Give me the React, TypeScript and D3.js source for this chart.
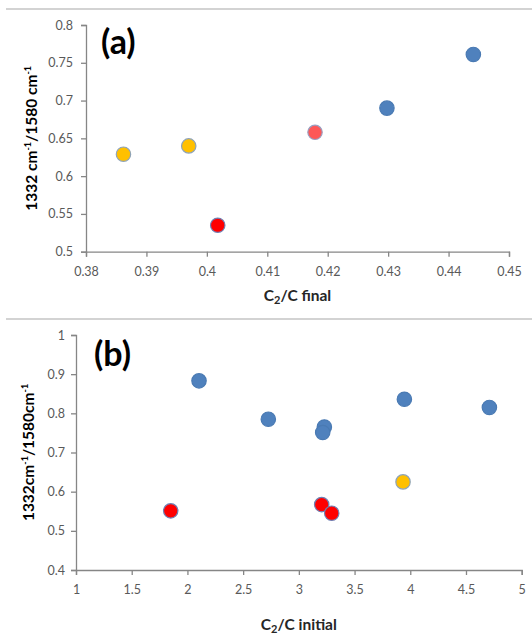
import React, { useRef, useEffect } from "react";
import { scaleLinear, select, axisLeft, axisBottom } from "d3";

// panel (a): C2/C final vs intensity ratio
const finalX = [0.3862, 0.397, 0.4018, 0.4179, 0.4298, 0.4441];
const finalY = [0.629, 0.64, 0.535, 0.658, 0.69, 0.761];
const finalGroup = ["yellow", "yellow", "red", "pink", "blue", "blue"];
const finalXTicks = [0.38, 0.39, 0.4, 0.41, 0.42, 0.43, 0.44, 0.45];
const finalYTicks = [0.5, 0.55, 0.6, 0.65, 0.7, 0.75, 0.8];

// panel (b): C2/C initial vs intensity ratio
const initX = [2.104, 2.726, 3.229, 3.214, 3.947, 4.71, 3.935, 1.85, 3.205, 3.295];
const initY = [0.883, 0.785, 0.765, 0.751, 0.836, 0.815, 0.625, 0.551, 0.567, 0.545];
const initGroup = ["blue", "blue", "blue", "blue", "blue", "blue", "yellow", "red", "red", "red"];
const initXTicks = [1, 1.5, 2, 2.5, 3, 3.5, 4, 4.5, 5];
const initYTicks = [0.4, 0.5, 0.6, 0.7, 0.8, 0.9, 1];

const fills = { blue: "#4f81bd", yellow: "#ffc000", red: "#ff0000", pink: "#fd5757" };
const strokes = { blue: "#4a7ab3", yellow: "#8ea3b8", red: "#6f7fb3", pink: "#9a9fc0" };

const FONT = "Lato, 'Open Sans', sans-serif";

const Panel = ({ top, left, right, bottom, xDomain, yDomain, xTicks, yTicks, xs, ys, groups, label, labelX, labelY, yTitle, xTitle, xTitleY, yTitleX, tickY, tickX }) => {
  const gx = useRef(null);
  const gy = useRef(null);
  const x = scaleLinear().domain(xDomain).range([left, right]);
  const y = scaleLinear().domain(yDomain).range([bottom, top]);

  useEffect(() => {
    const ax = select(gx.current).call(axisBottom(x).tickValues(xTicks).tickSize(5).tickFormat((d) => String(d)));
    const ay = select(gy.current).call(axisLeft(y).tickValues(yTicks).tickSize(5).tickFormat((d) => String(d)));
    [ax, ay].forEach((g) => {
      g.select(".domain").attr("stroke", "#868686").attr("stroke-width", 1.3);
      g.selectAll(".tick line").attr("stroke", "#868686").attr("stroke-width", 1.3);
      g.selectAll(".tick text").attr("fill", "#595959").style("font-family", FONT).style("font-size", "12.5px");
    });
    ax.selectAll(".tick text").attr("y", tickY);
    ay.selectAll(".tick text").attr("x", tickX);
  });

  return (
    <g>
      <g ref={gx} transform={`translate(0,${bottom})`} />
      <g ref={gy} transform={`translate(${left},0)`} />
      {xs.map((d, i) => (
        <circle key={i} cx={x(d)} cy={y(ys[i])} r={7.2} fill={fills[groups[i]]} stroke={strokes[groups[i]]} strokeWidth={1.2} />
      ))}
      <text x={labelX} y={labelY} fontFamily={FONT} fontWeight="bold" fontSize={34} fill="#000">{label}</text>
      <text transform={`translate(${yTitleX},${(top + bottom) / 2}) rotate(-90)`} textAnchor="middle" fontFamily={FONT} fontWeight="bold" fontSize={15.5} fill="#000">
        {yTitle}
      </text>
      <text x={(left + right) / 2} y={xTitleY} textAnchor="middle" fontFamily={FONT} fontWeight="bold" fontSize={15.5} fill="#262626">
        C<tspan fontSize={11} dy={3}>2</tspan><tspan dy={-3}>/C {xTitle}</tspan>
      </text>
    </g>
  );
};

export default function App() {
  return (
    <svg width={532} height={634} style={{ position: "absolute", left: 0, top: 0, background: "#fff" }}>
      <line x1={6} x2={532} y1={9} y2={9} stroke="#c4c4c4" strokeWidth={1.5} />
      <line x1={6} x2={532} y1={319} y2={319} stroke="#c4c4c4" strokeWidth={1.5} />
      <Panel
        top={25} left={86} right={509} bottom={251.7}
        xDomain={[0.38, 0.45]} yDomain={[0.5, 0.8]}
        xTicks={finalXTicks} yTicks={finalYTicks}
        xs={finalX} ys={finalY} groups={finalGroup}
        label="(a)" labelX={101} labelY={54}
        yTitleX={37} xTitleY={301} tickY={15} tickX={-13}
        xTitle="final"
        yTitle={<>1332 cm<tspan fontSize={9} dy={-6}>-1</tspan><tspan dy={6}>/1580 cm</tspan><tspan fontSize={9} dy={-6}>-1</tspan></>}
      />
      <Panel
        top={335} left={76} right={521.7} bottom={570}
        xDomain={[1, 5]} yDomain={[0.4, 1]}
        xTicks={initXTicks} yTicks={initYTicks}
        xs={initX} ys={initY} groups={initGroup}
        label="(b)" labelX={94} labelY={366}
        yTitleX={34} xTitleY={630} tickY={15} tickX={-11}
        xTitle="initial"
        yTitle={<>1332cm<tspan fontSize={9} dy={-6}>-1</tspan><tspan dy={6}>/1580cm</tspan><tspan fontSize={9} dy={-6}>-1</tspan></>}
      />
    </svg>
  );
}
